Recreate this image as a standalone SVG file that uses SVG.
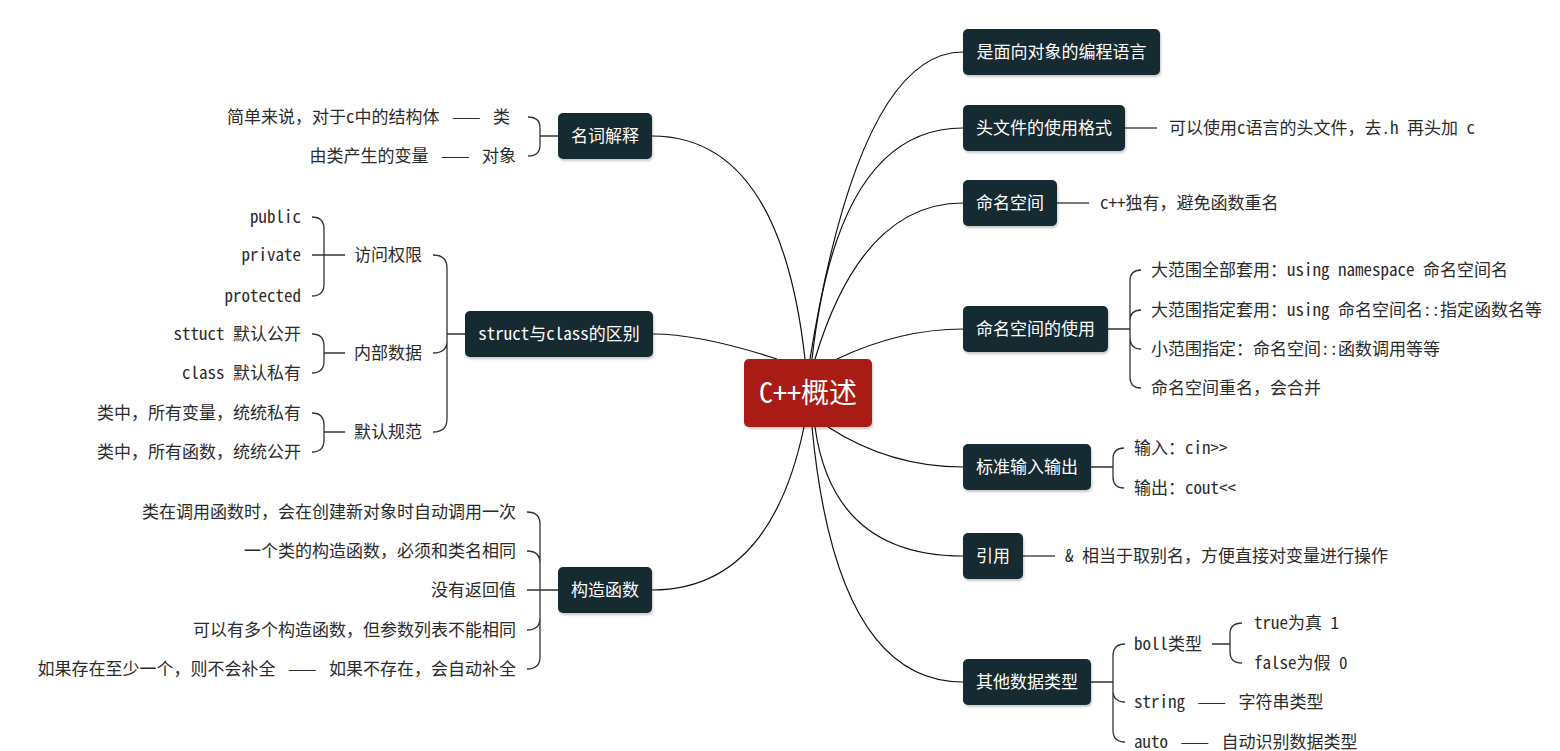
<svg xmlns="http://www.w3.org/2000/svg" width="1560" height="751" viewBox="0 0 1560 751">
<defs>
<filter id="sh" x="-10%" y="-20%" width="120%" height="150%">
<feDropShadow dx="1" dy="2" stdDeviation="1.2" flood-color="#000" flood-opacity="0.22"/>
</filter>
</defs>
<style>
.bg{fill:#ffffff}
.box{fill:#172a33;filter:url(#sh)}
.root{fill:#a91b15;filter:url(#sh)}
.bt{fill:#ffffff;font-family:'Noto Sans Mono CJK SC','Noto Sans CJK SC',monospace;font-size:17px;text-anchor:middle}
.rt{fill:#ffffff;font-family:'Noto Sans Mono CJK SC','Noto Sans CJK SC',monospace;font-size:28px;text-anchor:middle}
.t{fill:#2b2b2b;font-family:'Noto Sans Mono CJK SC','Noto Sans CJK SC',monospace;font-size:17px}
.e{text-anchor:end}
.s{text-anchor:start}
.c{fill:none;stroke:#111;stroke-width:1.2}
.b{fill:none;stroke:#333;stroke-width:1.3}
</style>
<rect class="bg" x="0" y="0" width="1560" height="751"/>

<g id="connectors">
<path class="c" d="M810,359 Q860,52 963,52"/>
<path class="c" d="M812,359 Q838,128 963,128"/>
<path class="c" d="M815,359 Q862,203 963,203"/>
<path class="c" d="M837,359 Q900,329 963,329"/>
<path class="c" d="M805,359 Q780,136 652,136"/>
<path class="c" d="M777,359 Q700,334 653,334"/>
<path class="c" d="M804,427 Q770,590 652,590"/>
<path class="c" d="M828,427 Q890,467 963,467"/>
<path class="c" d="M815,427 Q833,556 963,556"/>
<path class="c" d="M812,427 Q836,682 963,682"/>

<path class="b" d="M1125,128 H1157"/>
<path class="b" d="M1057,203 H1089"/>
<path class="b" d="M1023,556 H1055"/>
<path class="b" d="M1108,329 H1130 M1141,270 Q1130,270 1130,281 V377 Q1130,388 1141,388 M1130,321 Q1130,310 1141,310 M1130,337 Q1130,349 1141,349"/>
<path class="b" d="M1091,467 H1113 M1124,448 Q1113,448 1113,459 V477 Q1113,488 1124,488"/>
<path class="b" d="M1091,682 H1113 M1125,644 Q1113,644 1113,656 V730 Q1113,742 1125,742 M1113,690 Q1113,702 1125,702"/>
<path class="b" d="M1212,644 H1230 M1242,623 Q1230,623 1230,634 V652 Q1230,663 1242,663"/>

<path class="b" d="M558,136 H540 M528,117 Q540,117 540,128 V145 Q540,156 528,156"/>
<path class="b" d="M465,334 H447 M433,255 Q447,255 447,268 V419 Q447,432 433,432 M433,353 Q447,353 447,341"/>
<path class="b" d="M312,255 H345 M312,217 Q324,217 324,229 V284 Q324,296 312,296"/>
<path class="b" d="M324,353 H345 M312,334 Q324,334 324,346 V361 Q324,373 312,373"/>
<path class="b" d="M324,432 H345 M312,413 Q324,413 324,425 V440 Q324,452 312,452"/>
<path class="b" d="M558,590 H527 M527,512 Q540,512 540,524 V657 Q540,669 527,669 M527,551 Q540,551 540,563 M527,630 Q540,630 540,618"/>
</g>

<g id="root">
<rect class="root" x="744" y="359" width="128" height="68" rx="5"/>
<text class="rt" x="808" y="403">C++概述</text>
</g>

<g id="n_oop">
<rect class="box" x="963" y="29" width="197" height="46" rx="5"/>
<text class="bt" x="1061.5" y="58">是面向对象的编程语言</text>
</g>
<g id="n_header">
<rect class="box" x="963" y="105" width="162" height="46" rx="5"/>
<text class="bt" x="1044" y="134">头文件的使用格式</text>
</g>
<g id="n_header_d"><text class="t s" x="1169" y="134">可以使用c语言的头文件，去.h 再头加 c</text></g>
<g id="n_ns">
<rect class="box" x="963" y="180" width="94" height="46" rx="5"/>
<text class="bt" x="1010" y="209">命名空间</text>
</g>
<g id="n_ns_d"><text class="t s" x="1100" y="209">c++独有，避免函数重名</text></g>
<g id="n_nsuse">
<rect class="box" x="963" y="306" width="145" height="46" rx="5"/>
<text class="bt" x="1035.5" y="335">命名空间的使用</text>
</g>
<g id="n_nsuse_items">
<text class="t s" x="1151" y="276">大范围全部套用：using namespace 命名空间名</text>
<text class="t s" x="1151" y="316">大范围指定套用：using 命名空间名::指定函数名等</text>
<text class="t s" x="1151" y="355">小范围指定：命名空间::函数调用等等</text>
<text class="t s" x="1151" y="394">命名空间重名，会合并</text>
</g>
<g id="n_io">
<rect class="box" x="963" y="444" width="128" height="46" rx="5"/>
<text class="bt" x="1027" y="473">标准输入输出</text>
</g>
<g id="n_io_items">
<text class="t s" x="1134" y="454">输入：cin&gt;&gt;</text>
<text class="t s" x="1134" y="494">输出：cout&lt;&lt;</text>
</g>
<g id="n_ref">
<rect class="box" x="963" y="533" width="60" height="46" rx="5"/>
<text class="bt" x="993" y="562">引用</text>
</g>
<g id="n_ref_d"><text class="t s" x="1065" y="562">&amp; 相当于取别名，方便直接对变量进行操作</text></g>
<g id="n_other">
<rect class="box" x="963" y="659" width="128" height="46" rx="5"/>
<text class="bt" x="1027" y="688">其他数据类型</text>
</g>
<g id="n_other_items">
<text class="t s" x="1134" y="650">boll类型</text>
<text class="t s" x="1254" y="629">true为真 1</text>
<text class="t s" x="1254" y="669">false为假 0</text>
<text class="t s" x="1134" y="708">string <tspan dx="4">——</tspan><tspan dx="4"> 字符串类型</tspan></text>
<text class="t s" x="1134" y="748">auto <tspan dx="4">——</tspan><tspan dx="4"> 自动识别数据类型</tspan></text>
</g>

<g id="n_term">
<rect class="box" x="558" y="113" width="94" height="46" rx="5"/>
<text class="bt" x="605" y="142">名词解释</text>
</g>
<g id="n_term_items">
<text class="t e" x="510" y="123">简单来说，对于c中的结构体 <tspan dx="4">——</tspan><tspan dx="4"> 类</tspan></text>
<text class="t e" x="516" y="162">由类产生的变量 <tspan dx="4">——</tspan><tspan dx="4"> 对象</tspan></text>
</g>
<g id="n_struct">
<rect class="box" x="465" y="311" width="188" height="46" rx="5"/>
<text class="bt" x="559" y="340">struct与class的区别</text>
</g>
<g id="n_struct_items">
<text class="t e" x="422" y="261">访问权限</text>
<text class="t e" x="422" y="359">内部数据</text>
<text class="t e" x="422" y="438">默认规范</text>
<text class="t e" x="301" y="223">public</text>
<text class="t e" x="301" y="261">private</text>
<text class="t e" x="301" y="302">protected</text>
<text class="t e" x="301" y="340">sttuct 默认公开</text>
<text class="t e" x="301" y="379">class 默认私有</text>
<text class="t e" x="301" y="419">类中，所有变量，统统私有</text>
<text class="t e" x="301" y="458">类中，所有函数，统统公开</text>
</g>
<g id="n_ctor">
<rect class="box" x="558" y="567" width="94" height="46" rx="5"/>
<text class="bt" x="605" y="596">构造函数</text>
</g>
<g id="n_ctor_items">
<text class="t e" x="516" y="518">类在调用函数时，会在创建新对象时自动调用一次</text>
<text class="t e" x="516" y="557">一个类的构造函数，必须和类名相同</text>
<text class="t e" x="516" y="596">没有返回值</text>
<text class="t e" x="516" y="636">可以有多个构造函数，但参数列表不能相同</text>
<text class="t e" x="516" y="675">如果存在至少一个，则不会补全 <tspan dx="4">——</tspan><tspan dx="4"> 如果不存在，会自动补全</tspan></text>
</g>
</svg>
